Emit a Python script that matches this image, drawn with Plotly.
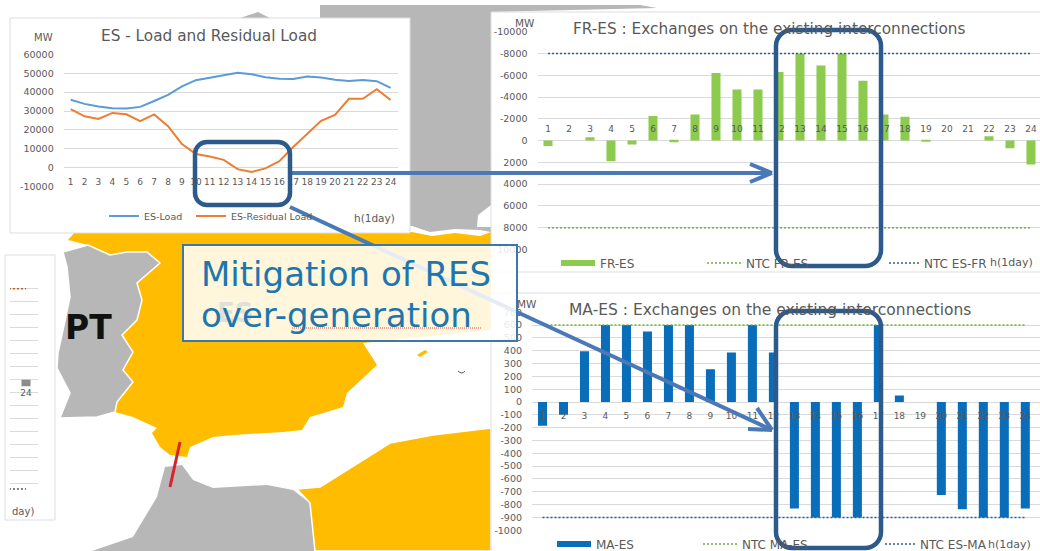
import plotly.graph_objects as go

W, H = 1040, 551
hours = list(range(1, 25))
hour_labels = [str(h) for h in hours]

es_load = [36000, 33800, 32400, 31500, 31400, 32200, 35300, 38500, 43000, 46300, 47600, 48900,
           50300, 49500, 47900, 47100, 47000, 48200, 47700, 46500, 45900, 46400, 45800, 42200]
es_residual = [31000, 27200, 25800, 29000, 28300, 24700, 28200, 22000, 12500, 7300, 6000, 4200,
               -700, -2200, -300, 3500, 11000, 18000, 24800, 28000, 36500, 36500, 41500, 35800]
fr_es = [500, 0, -300, 1900, 350, -2250, 150, -2400, -6200, -4700, -4700, -6300,
         -8000, -6900, -8000, -5500, -2400, -2200, 100, 0, 0, -400, 700, 2200]
ntc_fr_es = [8000] * 24
ntc_es_fr = [-8000] * 24
ma_es = [-185, -100, 395, 600, 600, 550, 600, 600, 255, 385, 600, 385,
         -830, -900, -900, -900, 600, 50, 0, -725, -835, -900, -900, -830]
ntc_ma_es = [600] * 24
ntc_es_ma = [-900] * 24

load_ticks = [60000, 50000, 40000, 30000, 20000, 10000, 0, -10000]
fr_ticks = [-10000, -8000, -6000, -4000, -2000, 0, 2000, 4000, 6000, 8000, 10000]
ma_ticks = [700, 600, 500, 400, 300, 200, 100, 0, -100, -200, -300, -400, -500, -600, -700, -800, -900, -1000]
pt_ticks = [8000, 7000, 6000, 5000, 4000, 3000, 2000, 1000, 0, -1000, -2000, -3000, -4000, -5000, -6000, -7000, -8000, -9000]

GRAY = "#595959"
GRID = "#DADADA"
BOX = "#2C5A8A"
ARROW = "#4A79B6"
YEL = "#FFBC00"
LAND = "#B7B7B7"
FONT = "DejaVu Sans"


def px(x):
    return x / W


def py(y):
    return 1 - y / H


def poly(points, fill, line="#FFFFFF", lw=1.5, layer="below"):
    d = "M" + " L".join(f"{px(x):.5f},{py(y):.5f}" for x, y in points) + " Z"
    return dict(type="path", xref="paper", yref="paper", path=d, fillcolor=fill, layer=layer,
                line=dict(color=line, width=lw))


def rect(x0, y0, x1, y1, fill=None, line="#DDDDDD", lw=1, layer="below"):
    return dict(type="rect", xref="paper", yref="paper", x0=px(x0), x1=px(x1), y0=py(y0), y1=py(y1),
                fillcolor=fill or "rgba(0,0,0,0)", line=dict(color=line, width=lw), layer=layer)


def seg(x0, y0, x1, y1, color=ARROW, lw=4, dash=None):
    return dict(type="line", xref="paper", yref="paper", x0=px(x0), x1=px(x1), y0=py(y0), y1=py(y1),
                line=dict(color=color, width=lw, dash=dash or "solid"), layer="above")


def rrect(x0, y0, x1, y1, r):
    k = 0.45 * r
    P = lambda x, y: f"{px(x):.5f},{py(y):.5f}"
    d = (f"M{P(x0 + r, y0)} L{P(x1 - r, y0)} C{P(x1 - k, y0)} {P(x1, y0 + k)} {P(x1, y0 + r)} "
         f"L{P(x1, y1 - r)} C{P(x1, y1 - k)} {P(x1 - k, y1)} {P(x1 - r, y1)} "
         f"L{P(x0 + r, y1)} C{P(x0 + k, y1)} {P(x0, y1 - k)} {P(x0, y1 - r)} "
         f"L{P(x0, y0 + r)} C{P(x0, y0 + k)} {P(x0 + k, y0)} {P(x0 + r, y0)} Z")
    return dict(type="path", xref="paper", yref="paper", path=d, fillcolor="rgba(0,0,0,0)",
                line=dict(color=BOX, width=4.5), layer="above")


shapes = [
    # map background
    poly([(320, 5), (640, 5), (657, 8), (491, 12), (491, 232), (480, 230), (455, 229), (430, 232),
          (412, 226), (320, 226)], LAND, lw=0),
    poly([(240, 18), (258, 12), (270, 18)], LAND, lw=0),
    poly([(477, 227), (478, 215), (491, 205), (491, 227)], "#FFFFFF", lw=0),
    poly([(75, 232), (412, 232), (432, 236), (455, 233), (480, 236), (491, 232), (491, 330), (363, 343),
          (377, 365), (347, 393), (343, 407), (310, 417), (302, 430), (283, 432), (233, 435), (213, 437),
          (190, 447), (187, 457), (170, 455), (160, 447), (152, 433), (157, 428), (133, 417), (115, 412),
          (117, 402), (133, 382), (123, 370), (133, 352), (122, 335), (137, 320), (142, 300), (137, 283),
          (160, 263), (147, 252), (127, 252), (110, 255), (88, 245), (68, 240)], YEL, lw=0),
    poly([(63, 252), (88, 245), (110, 255), (127, 252), (147, 252), (160, 263), (137, 283), (142, 300),
          (137, 320), (122, 335), (133, 352), (123, 370), (133, 382), (117, 402), (115, 412), (97, 417),
          (60, 418), (70, 393), (57, 368), (58, 353), (63, 330), (70, 297), (67, 267)], LAND),
    poly([(92, 551), (133, 537), (157, 497), (165, 467), (182, 465), (193, 480), (213, 488), (267, 485),
          (293, 490), (310, 503), (315, 551)], LAND, lw=0),
    poly([(315, 551), (310, 503), (297, 489), (320, 487), (363, 460), (390, 443), (433, 435), (491, 428),
          (491, 551)], YEL),
    poly([(417, 355), (425, 350), (428, 352), (420, 357)], YEL, lw=0),
    dict(type="line", xref="paper", yref="paper", x0=px(180), y0=py(442), x1=px(170), y1=py(487),
         line=dict(color="#D8232A", width=3), layer="below"),
    dict(type="path", xref="paper", yref="paper",
         path=f"M{px(458):.5f},{py(371):.5f} Q{px(462):.5f},{py(375):.5f} {px(465):.5f},{py(371):.5f}",
         line=dict(color="#555555", width=1), layer="below"),
    # white chart panels
    rect(491, 12, 1045, 272, "#FFFFFF", "#DDDDDD"),
    rect(491, 293, 1045, 556, "#FFFFFF", "#DDDDDD"),
    rect(10, 18, 410, 233, "#FFFFFF", "#DDDDDD"),
    rect(5, 255, 55, 520, "#FFFFFF", "#DDDDDD"),
    # arrows
    seg(290, 173, 770, 173),
    seg(750, 164, 772, 173),
    seg(750, 182, 772, 173),
    seg(290, 207, 772, 430),
    seg(748, 429, 772, 430),
    seg(757, 408, 772, 430),
    # highlight boxes
    rrect(195, 142, 290, 205, 12),
    rrect(776, 30, 881, 266, 16),
    rrect(776, 311, 881, 548, 16),
    # callout
    rect(183, 245, 517, 341, "rgba(255,255,255,0.86)", "#3B78A6", 2, "above"),
    seg(292, 328, 482, 328, "#D9534F", 1, "1px,1px"),
]


def y_dom(top, bottom):
    return [py(bottom), py(top)]


def x_dom(left, right):
    return [px(left), px(right)]


def axis_y(domain, rng, ticks, anchor):
    return dict(domain=domain, range=rng, tickvals=ticks, ticktext=[str(t) for t in ticks], anchor=anchor,
                showgrid=True, gridcolor=GRID, gridwidth=1, zeroline=False, showline=False,
                ticks="", ticklabelstandoff=9, tickfont=dict(family=FONT, size=9.5, color=GRAY))


def axis_x(domain, rng, pos, side="bottom", standoff=6):
    return dict(domain=domain, range=rng, tickvals=hours, ticktext=hour_labels, anchor="free", position=pos,
                side=side, showgrid=False, zeroline=False, showline=False, ticks="",
                ticklabelstandoff=standoff, tickfont=dict(family=FONT, size=9, color=GRAY))


def legend_box(x, y, ew, size=12, iw=34):
    return dict(orientation="h", x=px(x), y=py(y), xanchor="left",
                yanchor="middle", bgcolor="rgba(0,0,0,0)", entrywidth=ew, entrywidthmode="pixels",
                traceorder="normal", itemwidth=iw, tracegroupgap=0,
                font=dict(family=FONT, size=size, color=GRAY))


def label(text, x, y, size=10, color=GRAY, anchor="center", bold=False, family=FONT):
    return dict(text=f"<b>{text}</b>" if bold else text, xref="paper", yref="paper", x=px(x), y=py(y),
                xanchor=anchor, yanchor="middle", showarrow=False,
                font=dict(family=family, size=size, color=color))


fig = go.Figure()

# ES load chart
fig.add_trace(go.Scatter(x=hours, y=es_load, name="ES-Load", mode="lines", xaxis="x", yaxis="y",
                         line=dict(color="#5B9BD5", width=2), legend="legend"))
fig.add_trace(go.Scatter(x=hours, y=es_residual, name="ES-Residual Load", mode="lines", xaxis="x", yaxis="y",
                         line=dict(color="#ED7D31", width=2), legend="legend6"))

# FR-ES chart
fig.add_trace(go.Bar(x=hours, y=fr_es, name="FR-ES", xaxis="x2", yaxis="y2", width=0.43,
                     marker=dict(color="#8CCB4E", line=dict(width=0)), showlegend=False))
fig.add_trace(go.Scatter(x=[None], y=[None], name="FR-ES", mode="lines", xaxis="x2", yaxis="y2",
                         line=dict(color="#8CCB4E", width=6), legend="legend2"))
fig.add_trace(go.Scatter(x=hours, y=ntc_fr_es, name="NTC FR-ES", mode="lines", xaxis="x2", yaxis="y2",
                         line=dict(color="#6FAE45", width=1.6, dash="2px,2px"), legend="legend2"))
fig.add_trace(go.Scatter(x=hours, y=ntc_es_fr, name="NTC ES-FR", mode="lines", xaxis="x2", yaxis="y2",
                         line=dict(color="#2F5D8C", width=1.6, dash="2px,2px"), legend="legend4"))

# MA-ES chart
fig.add_trace(go.Bar(x=hours, y=ma_es, name="MA-ES", xaxis="x3", yaxis="y3", width=0.43,
                     marker=dict(color="#0A6DBA", line=dict(width=0)), showlegend=False))
fig.add_trace(go.Scatter(x=[None], y=[None], name="MA-ES", mode="lines", xaxis="x3", yaxis="y3",
                         line=dict(color="#0A6DBA", width=6), legend="legend3"))
fig.add_trace(go.Scatter(x=hours, y=ntc_ma_es, name="NTC MA-ES", mode="lines", xaxis="x3", yaxis="y3",
                         line=dict(color="#6FAE45", width=1.6, dash="2px,2px"), legend="legend3"))
fig.add_trace(go.Scatter(x=hours, y=ntc_es_ma, name="NTC ES-MA", mode="lines", xaxis="x3", yaxis="y3",
                         line=dict(color="#2F5D8C", width=1.6, dash="2px,2px"), legend="legend5"))

# cropped chart at the left edge
fig.add_trace(go.Bar(x=[24], y=[-500], xaxis="x4", yaxis="y4", width=0.43, showlegend=False,
                     marker=dict(color="#8C8C8C", line=dict(width=0))))
fig.add_trace(go.Scatter(x=[23, 24], y=[7000, 7000], mode="lines", xaxis="x4", yaxis="y4", showlegend=False,
                         line=dict(color="#C55A11", width=1.5, dash="2px,2px")))
fig.add_trace(go.Scatter(x=[23, 24], y=[-8400, -8400], mode="lines", xaxis="x4", yaxis="y4", showlegend=False,
                         line=dict(color="#555555", width=1.5, dash="2px,2px")))

ax4 = axis_y(y_dom(275.7, 496.7), [-9000, 8000], pt_ticks, "x4")
ax4.update(showticklabels=False)
ax4x = axis_x(x_dom(10, 38), [23.24, 24.57], py(379.7), standoff=6)
ax4x.update(tickvals=[24], ticktext=["24"])

fig.update_layout(
    width=W, height=H, autosize=False, margin=dict(l=0, r=0, t=0, b=0, autoexpand=False),
    paper_bgcolor="#FFFFFF", plot_bgcolor="rgba(0,0,0,0)", barmode="overlay",
    xaxis=axis_x(x_dom(63.7, 397.6), [0.5, 24.5], py(167.5), standoff=7),
    yaxis=axis_y(y_dom(54.3, 186.7), [-10000, 60000], load_ticks, "x"),
    xaxis2=axis_x(x_dom(537.5, 1040), [0.5, 24.43], py(140.3), side="top", standoff=7),
    yaxis2=dict(axis_y(y_dom(31.7, 249.5), [10000, -10000], fr_ticks, "x2")),
    xaxis3=axis_x(x_dom(532, 1040), [0.5, 24.7], py(402), standoff=7),
    yaxis3=axis_y(y_dom(312.2, 530.3), [-1000, 700], ma_ticks, "x3"),
    xaxis4=ax4x,
    yaxis4=ax4,
    legend=legend_box(104, 216, 50, size=9.5, iw=30),
    legend6=legend_box(191, 216, 95, size=9.5, iw=30),
    legend2=legend_box(556, 263, 97),
    legend3=legend_box(552, 544, 97),
    legend4=legend_box(884, 263, 70, iw=30),
    legend5=legend_box(880, 544, 70, iw=30),
    shapes=shapes,
    annotations=[
        label("ES - Load and Residual Load", 209, 36, 15.3),
        label("MW", 43, 37, 10),
        label("h(1day)", 374, 218, 10.5),
        label("FR-ES : Exchanges on the existing interconnections", 769.5, 29, 15.3),
        label("MW", 525, 23, 10.5),
        label("h(1day)", 1011, 263, 11),
        label("MA-ES : Exchanges on the existing interconnections", 770, 310, 15.5),
        label("MW", 527, 304, 10.5),
        label("h(1day)", 1009, 544, 11),
        label("day)", 23, 511, 10),
        label("PT", 88, 327, 33, color="#111111", bold=True),
        label("ES", 235, 313, 26, color="rgba(170,190,210,0.4)", bold=True),
        label("Mitigation of RES", 199, 274, 34, color="#1D76AE", anchor="left"),
        label("over-generation", 199, 315, 34, color="#1D76AE", anchor="left"),
    ],
)

post = ("var g=document.getElementById('{plot_id}');document.documentElement.style.overflow='hidden';"
        "document.body.style.margin='0';g.style.position='fixed';g.style.left='0';g.style.top='0';")
fig.write_html("out.html", post_script=post, config=dict(displayModeBar=False))
